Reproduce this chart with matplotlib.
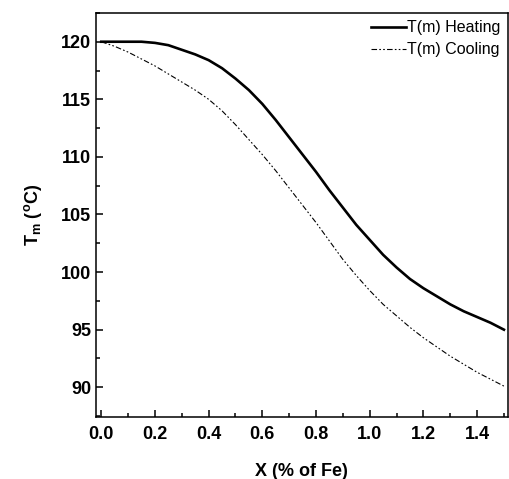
import matplotlib
matplotlib.use("Agg")
import matplotlib.pyplot as plt
from matplotlib.ticker import MultipleLocator

plt.rcParams['font.family'] = ['Liberation Sans', 'DejaVu Sans']
plt.rcParams['mathtext.fontset'] = 'custom'
plt.rcParams['mathtext.rm'] = 'Liberation Sans:bold'

# Fe content (%)
x_fe = [0.00, 0.05, 0.10, 0.15, 0.20, 0.25, 0.30, 0.35, 0.40, 0.45,
        0.50, 0.55, 0.60, 0.65, 0.70, 0.75, 0.80, 0.85, 0.90, 0.95,
        1.00, 1.05, 1.10, 1.15, 1.20, 1.25, 1.30, 1.35, 1.40, 1.45, 1.50]

# Tm on heating
tm_heating = [120.0, 120.0, 120.0, 120.0, 119.9, 119.7, 119.3, 118.9, 118.4, 117.7,
              116.8, 115.8, 114.6, 113.2, 111.7, 110.2, 108.7, 107.1, 105.6, 104.1,
              102.8, 101.5, 100.4, 99.4, 98.6, 97.9, 97.2, 96.6, 96.1, 95.6, 95.0]

# Tm on cooling
tm_cooling = [120.0, 119.6, 119.1, 118.5, 117.9, 117.2, 116.5, 115.8, 115.0, 114.0,
              112.8, 111.5, 110.2, 108.8, 107.3, 105.8, 104.3, 102.7, 101.1, 99.7,
              98.4, 97.2, 96.2, 95.2, 94.3, 93.5, 92.7, 92.0, 91.3, 90.7, 90.1]

fig = plt.figure(figsize=(5.1, 4.79), dpi=100)
ax = fig.add_axes([0.188, 0.129, 0.808, 0.844])

ax.plot(x_fe, tm_heating, color='black', lw=1.9, label='T(m) Heating')
ax.plot(x_fe, tm_cooling, color='black', lw=0.8, dashes=[5, 2, 1.5, 2, 1.5, 2],
        label='T(m) Cooling')

ax.set_xlim(-0.02, 1.515)
ax.set_ylim(87.4, 122.5)
ax.xaxis.set_major_locator(MultipleLocator(0.2))
ax.xaxis.set_minor_locator(MultipleLocator(0.1))
ax.yaxis.set_major_locator(MultipleLocator(5))
ax.yaxis.set_minor_locator(MultipleLocator(2.5))
ax.tick_params(which='both', direction='in', top=False, right=False, width=1.1)
ax.tick_params(which='major', length=5, labelsize=13)
ax.tick_params(axis='x', which='major', pad=6)
ax.tick_params(which='minor', length=3)
for lbl in ax.get_xticklabels() + ax.get_yticklabels():
    lbl.set_fontweight('bold')
for sp in ax.spines.values():
    sp.set_linewidth(1.1)

ax.set_xlabel('X (% of Fe)', fontsize=13, fontweight='bold', labelpad=15)
ax.set_ylabel(r'T$_\mathrm{m}$ ($^\mathrm{o}$C)', fontsize=13, fontweight='bold', labelpad=12)

ax.legend(loc='upper right', frameon=False, fontsize=11.5, handlelength=2.2,
          handletextpad=0.1, borderaxespad=0.05, labelspacing=0.45)

fig.savefig('out.png', dpi=100)
